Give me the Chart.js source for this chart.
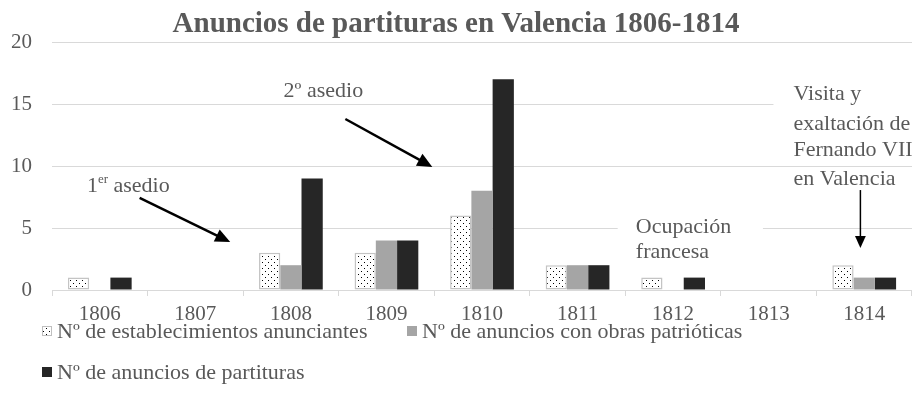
<!DOCTYPE html>
<html>
<head>
<meta charset="utf-8">
<script src="https://cdn.jsdelivr.net/npm/chart.js@4.4.1/dist/chart.umd.min.js"></script>
<style>
  html, body { margin: 0; padding: 0; background: #fff; }
  #wrap { width: 912px; height: 409px; }
</style>
</head>
<body>
<div id="wrap"><canvas id="myChart" width="912" height="409"></canvas></div>
<script>
const years = ["1806", "1807", "1808", "1809", "1810", "1811", "1812", "1813", "1814"];
const establecimientos = [1, 0, 3, 3, 6, 2, 1, 0, 2];
const obrasPatrioticas = [0, 0, 2, 4, 8, 2, 0, 0, 1];
const partituras = [1, 0, 9, 4, 17, 2, 1, 0, 1];
const yTicks = [0, 5, 10, 15, 20];
const seriesLabels = [
  "Nº de establecimientos anunciantes",
  "Nº de anuncios con obras patrióticas",
  "Nº de anuncios de partituras",
];
const titleText = "Anuncios de partituras en Valencia 1806-1814";

// notes are placed in data units (x = category index, y = value)
const notes = [
  { parts: [["2º asedio", false]], x: 2.34, y: 16.05, align: "center" },
  { parts: [["1", false], ["er", true], [" asedio", false]], x: -0.135, y: 8.39, align: "left" },
  { parts: [["Ocupación", false]], x: 5.61, y: 5.08, align: "left" },
  { parts: [["francesa", false]], x: 5.61, y: 3.06, align: "left" },
  { parts: [["Visita y", false]], x: 7.26, y: 15.8, align: "left" },
  { parts: [["exaltación de", false]], x: 7.26, y: 13.4, align: "left" },
  { parts: [["Fernando VII", false]], x: 7.26, y: 11.3, align: "left" },
  { parts: [["en Valencia", false]], x: 7.26, y: 8.9, align: "left" },
];
const arrows = [
  { from: [2.57, 13.79], to: [3.48, 9.92], width: 2.5, head: 15 },
  { from: [0.417, 7.42], to: [1.365, 3.87], width: 2.5, head: 15 },
  { from: [7.96, 8.06], to: [7.96, 3.39], width: 1.5, head: 12 },
];
// white boxes behind the text boxes that hide the grid
const masks = [
  { x0: 5.42, x1: 6.94, y0: 6.85, y1: 1.6 },
  { x0: 7.05, x1: 9.2, y0: 17.7, y1: 12.1 },
];

const textColor = "#595959";
const serif = "'Liberation Serif', 'Times New Roman', serif";

// dotted fill like the excel pattern
const pc = document.createElement("canvas");
pc.width = 6;
pc.height = 6;
const pg = pc.getContext("2d");
pg.fillStyle = "#fff";
pg.fillRect(0, 0, 6, 6);
pg.fillStyle = "#000";
pg.fillRect(1, 1, 1, 1);
pg.fillRect(4, 4, 1, 1);
const dots = pg.createPattern(pc, "repeat");

function drawArrow(c, x1, y1, x2, y2, w, head) {
  const a = Math.atan2(y2 - y1, x2 - x1);
  const hw = head * 0.45;
  c.save();
  c.strokeStyle = "#000";
  c.fillStyle = "#000";
  c.lineWidth = w;
  c.beginPath();
  c.moveTo(x1, y1);
  c.lineTo(x2 - Math.cos(a) * head * 0.9, y2 - Math.sin(a) * head * 0.9);
  c.stroke();
  c.beginPath();
  c.moveTo(x2, y2);
  c.lineTo(x2 - Math.cos(a) * head - Math.sin(a) * hw, y2 - Math.sin(a) * head + Math.cos(a) * hw);
  c.lineTo(x2 - Math.cos(a) * head + Math.sin(a) * hw, y2 - Math.sin(a) * head - Math.cos(a) * hw);
  c.closePath();
  c.fill();
  c.restore();
}

const notesPlugin = {
  id: "notes",
  beforeDatasetsDraw(chart) {
    const { ctx, scales: { x, y } } = chart;
    ctx.save();
    ctx.fillStyle = "#fff";
    masks.forEach((m) => {
      const l = x.getPixelForValue(m.x0), r = x.getPixelForValue(m.x1);
      const t = y.getPixelForValue(m.y0), b = y.getPixelForValue(m.y1);
      ctx.fillRect(l, t, r - l, b - t);
    });
    ctx.restore();
  },
  afterDraw(chart) {
    const { ctx, scales: { x, y } } = chart;
    ctx.save();
    ctx.fillStyle = textColor;
    ctx.textBaseline = "middle";
    notes.forEach((n) => {
      const big = "22px " + serif, small = "13px " + serif;
      let w = 0;
      n.parts.forEach(([t, sup]) => {
        ctx.font = sup ? small : big;
        w += ctx.measureText(t).width;
      });
      let px = x.getPixelForValue(n.x);
      if (n.align === "center") px -= w / 2;
      const py = y.getPixelForValue(n.y);
      n.parts.forEach(([t, sup]) => {
        ctx.font = sup ? small : big;
        ctx.textAlign = "left";
        ctx.fillText(t, px, sup ? py - 6 : py);
        px += ctx.measureText(t).width;
      });
    });
    arrows.forEach((a) => {
      drawArrow(ctx,
        x.getPixelForValue(a.from[0]), y.getPixelForValue(a.from[1]),
        x.getPixelForValue(a.to[0]), y.getPixelForValue(a.to[1]),
        a.width, a.head);
    });

    // legend, two rows like the original
    const rows = [[0, 1], [2]];
    const cols = [42, 407];
    const base = chart.chartArea.bottom;
    ctx.font = "22px " + serif;
    rows.forEach((row, r) => {
      const ly = base + 41 + r * 41;
      row.forEach((i, k) => {
        const lx = cols[k];
        const ds = chart.data.datasets[i];
        ctx.fillStyle = ds.backgroundColor;
        ctx.fillRect(lx, ly - 5, 10, 10);
        if (i === 0) {
          ctx.strokeStyle = "#bfbfbf";
          ctx.lineWidth = 1;
          ctx.strokeRect(lx + 0.5, ly - 4.5, 9, 9);
        }
        ctx.fillStyle = textColor;
        ctx.textAlign = "left";
        ctx.fillText(ds.label, lx + 15, ly + 1);
      });
    });
    ctx.restore();
  },
};

Chart.defaults.font.family = serif;
Chart.defaults.color = textColor;

new Chart(document.getElementById("myChart"), {
  type: "bar",
  data: {
    labels: years,
    datasets: [
      {
        label: seriesLabels[0],
        data: establecimientos,
        backgroundColor: dots,
        borderColor: "#c4c4c4",
        borderWidth: (ctx) => (ctx.raw ? 1.5 : 0),
        borderSkipped: false,
      },
      {
        label: seriesLabels[1],
        data: obrasPatrioticas,
        backgroundColor: "#a5a5a5",
      },
      {
        label: seriesLabels[2],
        data: partituras,
        backgroundColor: "#262626",
      },
    ],
  },
  options: {
    responsive: false,
    animation: false,
    devicePixelRatio: 1,
    layout: { padding: { left: 0, right: 0, top: 0, bottom: 83 } },
    datasets: { bar: { categoryPercentage: 0.667, barPercentage: 1 } },
    plugins: {
      legend: { display: false },
      tooltip: { enabled: false },
      title: {
        display: true,
        text: titleText,
        color: textColor,
        font: { family: serif, size: 29, weight: "bold", lineHeight: 1 },
        padding: { top: 10, bottom: 3 },
      },
    },
    scales: {
      x: {
        grid: {
          offset: true,
          drawOnChartArea: false,
          drawTicks: true,
          tickLength: 6,
          color: "#d9d9d9",
        },
        border: { display: true, color: "#d9d9d9" },
        ticks: { font: { size: 21 }, padding: 6, maxRotation: 0 },
        afterFit: (s) => { s.height = 36; },
      },
      y: {
        min: yTicks[0],
        max: yTicks[yTicks.length - 1],
        ticks: { stepSize: yTicks[1] - yTicks[0], font: { size: 21 }, padding: 20 },
        grid: { color: "#d9d9d9", drawTicks: false },
        border: { display: false },
        afterFit: (s) => { s.width = 52; },
      },
    },
  },
  plugins: [notesPlugin],
});
</script>
</body>
</html>
